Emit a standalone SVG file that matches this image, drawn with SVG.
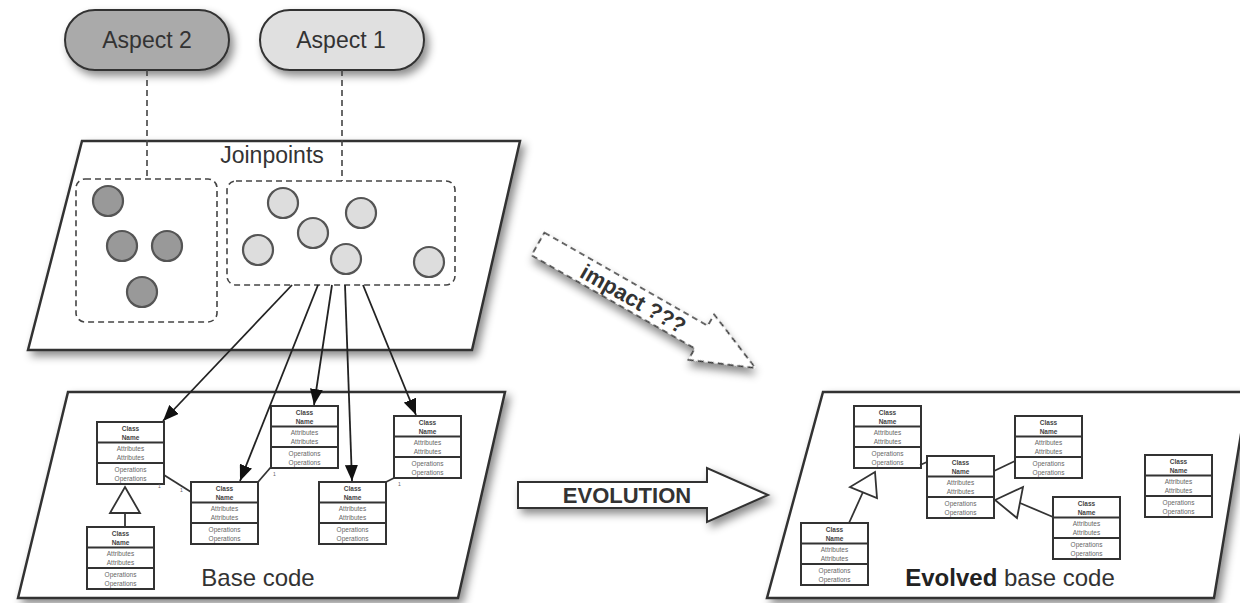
<svg xmlns="http://www.w3.org/2000/svg" xmlns:xlink="http://www.w3.org/1999/xlink" width="1240" height="603" viewBox="0 0 1240 603">
<style>
.plane{fill:#ffffff;stroke:#333;stroke-width:2.5;stroke-linejoin:miter}
.pill{stroke:#333;stroke-width:2}
.lbl{font-family:"Liberation Sans",Arial,sans-serif;fill:#333}
.dash{fill:none;stroke:#444;stroke-width:1.6;stroke-dasharray:6 4}
.dot{stroke:#555;stroke-width:2.2}
.dk{fill:#999}
.lt{fill:#ddd}
.conn{fill:none;stroke:#222;stroke-width:1.8}
.assoc{fill:none;stroke:#333;stroke-width:1.8}
.gen{fill:#fff;stroke:#333;stroke-width:1.8}
.cbox{fill:#fff;stroke:#333;stroke-width:2}
.ct{font-family:"Liberation Sans",Arial,sans-serif;font-size:6.5px;fill:#666;text-anchor:middle}
.cn{font-weight:bold;fill:#444}
.mult{font-family:"Liberation Sans",Arial,sans-serif;font-size:5px;fill:#666}
</style>
<defs>
<filter id="sh" x="-10%" y="-10%" width="130%" height="140%">
<feDropShadow dx="4" dy="5" stdDeviation="4" flood-color="#000" flood-opacity="0.45"/>
</filter>
<marker id="ah" markerUnits="userSpaceOnUse" markerWidth="16" markerHeight="13" refX="16" refY="6.5" orient="auto">
<path d="M0,0 L16,6.5 L0,13 z" fill="#111"/>
</marker>
<g id="cls">
<rect class="cbox" x="0" y="0" width="67" height="62"/>
<line x1="0" y1="20.5" x2="67" y2="20.5" stroke="#333" stroke-width="1.8"/>
<line x1="0" y1="41" x2="67" y2="41" stroke="#333" stroke-width="1.8"/>
<text class="ct cn" x="33.5" y="8.5">Class</text>
<text class="ct cn" x="33.5" y="17.5">Name</text>
<text class="ct" x="33.5" y="29">Attributes</text>
<text class="ct" x="33.5" y="38">Attributes</text>
<text class="ct" x="33.5" y="50">Operations</text>
<text class="ct" x="33.5" y="59">Operations</text>
</g>
</defs>

<!-- Planes -->
<g id="joinpoints-plane">
<polygon class="plane" points="82,141 520,141 472,350 28,350" filter="url(#sh)"/>
<text class="lbl" x="272" y="163" font-size="23" text-anchor="middle" fill="#444">Joinpoints</text>
</g>
<g id="base-code-plane">
<polygon class="plane" points="68,392 505,392 458,598 18,598" filter="url(#sh)"/>
<text class="lbl" x="258" y="586" font-size="24" text-anchor="middle">Base code</text>
</g>
<g id="evolved-plane">
<polygon class="plane" points="823,392 1248,392 1214,598 767,598" filter="url(#sh)"/>
<text class="lbl" x="1010" y="586" font-size="24" text-anchor="middle"><tspan font-weight="bold" fill="#222">Evolved</tspan> base code</text>
</g>

<!-- Aspects -->
<g id="aspect-2">
<rect class="pill" x="65" y="10" width="164" height="60" rx="30" fill="#aaaaaa" filter="url(#sh)"/>
<text class="lbl" x="147" y="48" font-size="23" text-anchor="middle">Aspect 2</text>
</g>
<g id="aspect-1">
<rect class="pill" x="260" y="10" width="164" height="60" rx="30" fill="#e0e0e0" filter="url(#sh)"/>
<text class="lbl" x="341" y="48" font-size="23" text-anchor="middle">Aspect 1</text>
</g>

<!-- Joinpoint groups -->
<g id="jp-group-2">
<rect class="dash" x="76" y="179" width="141" height="143" rx="9"/>
<circle class="dot dk" cx="108" cy="201" r="15"/>
<circle class="dot dk" cx="122" cy="246" r="15"/>
<circle class="dot dk" cx="167" cy="246" r="15"/>
<circle class="dot dk" cx="142" cy="292" r="15"/>
</g>
<g id="jp-group-1">
<rect class="dash" x="227" y="181" width="228" height="104" rx="9"/>
<circle class="dot lt" cx="283" cy="203" r="15"/>
<circle class="dot lt" cx="361" cy="213" r="15"/>
<circle class="dot lt" cx="313" cy="233" r="15"/>
<circle class="dot lt" cx="258" cy="250" r="15"/>
<circle class="dot lt" cx="346" cy="259" r="15"/>
<circle class="dot lt" cx="429" cy="262" r="15"/>
</g>

<!-- Base code classes -->
<g id="base-class-a" transform="translate(97,422)"><use xlink:href="#cls"/></g>
<g id="base-class-b" transform="translate(87,527)"><use xlink:href="#cls"/></g>
<g id="base-class-c" transform="translate(191,482)"><use xlink:href="#cls"/></g>
<g id="base-class-d" transform="translate(271,406)"><use xlink:href="#cls"/></g>
<g id="base-class-e" transform="translate(319,482)"><use xlink:href="#cls"/></g>
<g id="base-class-f" transform="translate(394,416)"><use xlink:href="#cls"/></g>

<!-- Evolved classes -->
<g id="evo-class-g" transform="translate(854,406)"><use xlink:href="#cls"/></g>
<g id="evo-class-h" transform="translate(927,456)"><use xlink:href="#cls"/></g>
<g id="evo-class-i" transform="translate(1015,416)"><use xlink:href="#cls"/></g>
<g id="evo-class-j" transform="translate(1053,497)"><use xlink:href="#cls"/></g>
<g id="evo-class-k" transform="translate(1145,455)"><use xlink:href="#cls"/></g>
<g id="evo-class-l" transform="translate(801,523)"><use xlink:href="#cls"/></g>

<!-- Connectors -->
<g id="connectors">
<line class="dash" x1="147" y1="70" x2="147" y2="179"/>
<line class="dash" x1="342" y1="70" x2="342" y2="181"/>
<line class="conn" x1="292" y1="285" x2="163" y2="421" marker-end="url(#ah)"/>
<line class="conn" x1="318" y1="285" x2="240" y2="481" marker-end="url(#ah)"/>
<line class="conn" x1="332" y1="285" x2="314" y2="405" marker-end="url(#ah)"/>
<line class="conn" x1="345" y1="285" x2="352" y2="481" marker-end="url(#ah)"/>
<line class="conn" x1="363" y1="285" x2="416" y2="415" marker-end="url(#ah)"/>
<!-- base code associations / generalization -->
<line class="assoc" x1="164" y1="475" x2="191" y2="492"/>
<line class="assoc" x1="258" y1="482" x2="271" y2="467"/>
<line class="assoc" x1="386" y1="482" x2="394" y2="478"/>
<line class="assoc" x1="125" y1="513" x2="125" y2="527"/>
<polygon class="gen" points="125,487 140,513 110,513"/>
<text class="mult" x="158" y="488">1</text>
<text class="mult" x="180" y="492">1</text>
<text class="mult" x="273" y="476">1</text>
<text class="mult" x="398" y="486">1</text>
<!-- evolved associations / generalizations -->
<line class="assoc" x1="920" y1="465" x2="927" y2="462"/>
<line class="assoc" x1="994" y1="471" x2="1015" y2="461"/>
<line class="assoc" x1="863" y1="492" x2="849" y2="523"/>
<polygon class="gen" points="875,472 877,498 850,487"/>
<line class="assoc" x1="1020" y1="503" x2="1053" y2="517"/>
<polygon class="gen" points="995,500 1023,487 1017,518"/>
</g>

<!-- Impact arrow -->
<g id="impact-arrow" transform="translate(538,244) rotate(29.7)">
<polygon points="0,-13 188,-13 188,-26 250,0 188,26 188,13 0,13" fill="#fff" stroke="#333" stroke-width="1.6" stroke-dasharray="6 4" filter="url(#sh)"/>
<text class="lbl" x="110" y="8" font-size="22" font-weight="bold" text-anchor="middle" fill="#222">impact ???</text>
</g>

<!-- Evolution arrow -->
<g id="evolution-arrow">
<polygon points="518,482 707,482 707,468 768,495 707,522 707,508 518,508" fill="#fff" stroke="#333" stroke-width="2" filter="url(#sh)"/>
<text class="lbl" x="627" y="503" font-size="22" font-weight="bold" text-anchor="middle" fill="#111">EVOLUTION</text>
</g>
</svg>
